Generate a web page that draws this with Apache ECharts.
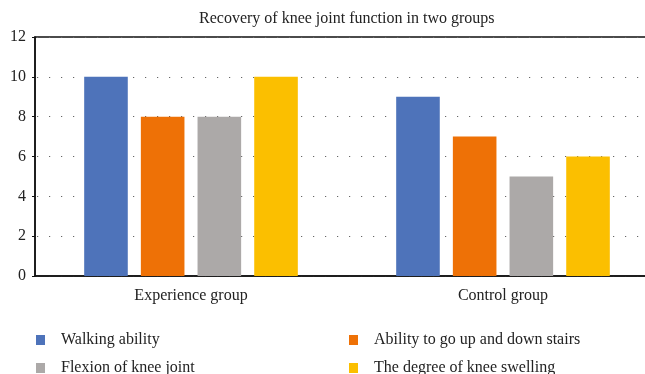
<!DOCTYPE html>
<html><head><meta charset="utf-8">
<script src="https://cdn.jsdelivr.net/npm/echarts@6/dist/echarts.min.js"></script>
<style>html,body{margin:0;padding:0;background:#fff}#c{width:645px;height:374px}</style>
</head><body><div id="c"></div>
<script>
const titleText = 'Recovery of knee joint function in two groups';
const categories = ['Experience group', 'Control group'];
const seriesNames = ['Walking ability', 'Ability to go up and down stairs', 'Flexion of knee joint', 'The degree of knee swelling'];
const walking = [10, 9];
const stairs = [8, 7];
const flexion = [8, 5];
const swelling = [10, 6];
const yTicks = [0, 2, 4, 6, 8, 10, 12];

const colors = ['#4E73BA', '#EE7106', '#ACA9A8', '#FBBF00'];
const font = 'Liberation Serif';
const values = [walking, stairs, flexion, swelling];

const chart = echarts.init(document.getElementById('c'));
chart.setOption({
  animation: false,
  textStyle: { fontFamily: font },
  title: { text: titleText, left: 199, top: 11, padding: 0,
    textStyle: { fontFamily: font, fontSize: 16, fontWeight: 'normal', color: '#222' } },
  grid: { left: 35, top: 37, bottom: 98, width: 624, outerBoundsMode: 'none', containLabel: false,
    show: true, borderColor: '#111', borderWidth: 1.5 },
  legend: [
    { data: [seriesNames[0], seriesNames[2]], orient: 'vertical', left: 36, top: 332, height: 80, padding: 0,
      itemWidth: 9, itemHeight: 10, itemGap: 12, icon: 'rect',
      textStyle: { fontFamily: font, fontSize: 16, color: '#222', padding: [0, 0, 0, 11] } },
    { data: [seriesNames[1], seriesNames[3]], orient: 'vertical', left: 349, top: 332, height: 80, padding: 0,
      itemWidth: 9, itemHeight: 10, itemGap: 12, icon: 'rect',
      textStyle: { fontFamily: font, fontSize: 16, color: '#222', padding: [0, 0, 0, 11] } }
  ],
  xAxis: { type: 'category', data: categories,
    axisLine: { lineStyle: { color: '#111', width: 1.5 } },
    axisTick: { alignWithLabel: true, length: 4, lineStyle: { color: '#111' } },
    axisLabel: { fontFamily: font, fontSize: 16, color: '#222', margin: 12 } },
  yAxis: { type: 'value', min: yTicks[0], max: yTicks[yTicks.length - 1], interval: 2,
    axisLine: { show: true, lineStyle: { color: '#111', width: 1.5 } },
    axisTick: { show: true, length: 3, lineStyle: { color: '#111' } },
    axisLabel: { fontFamily: font, fontSize: 16, color: '#222', margin: 9 },
    splitLine: { show: true, lineStyle: { color: '#666', width: 1.2, type: [1.2, 10.8], dashOffset: -2 } } },
  series: seriesNames.map((n, i) => ({
    name: n, type: 'bar', data: values[i], barWidth: 43.6, barGap: '30%',
    itemStyle: { color: colors[i] }
  }))
});
</script></body></html>
